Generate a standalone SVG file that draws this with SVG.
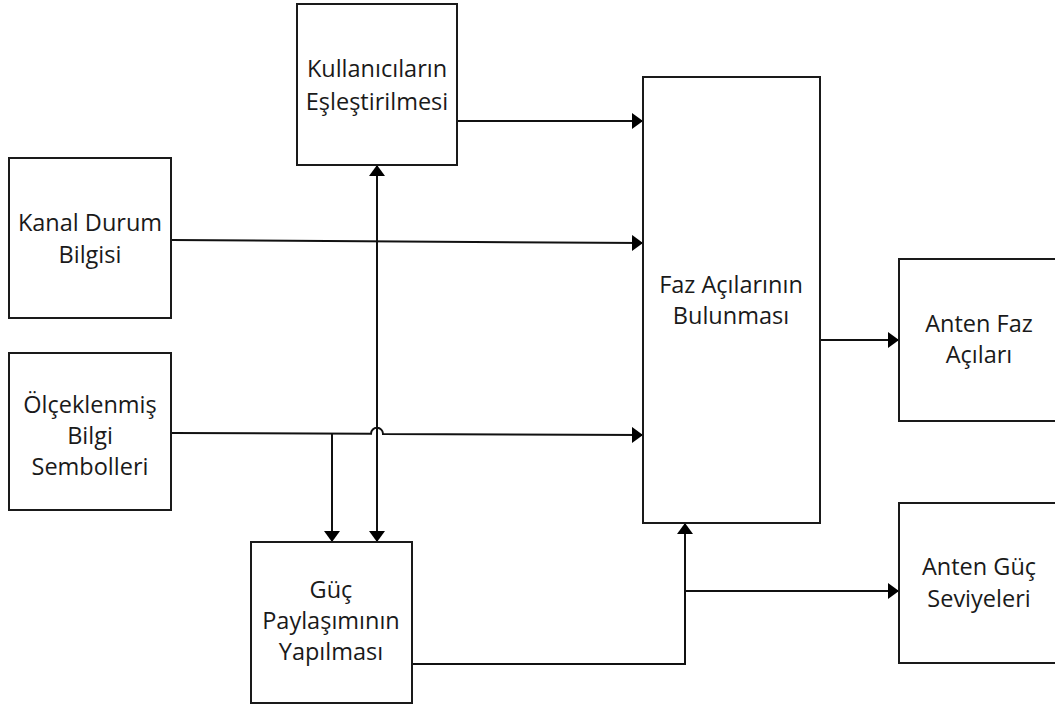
<svg xmlns="http://www.w3.org/2000/svg" width="1055" height="711" viewBox="0 0 1055 711">
  <style>
    .box { fill: #ffffff; stroke: #1a1a1a; stroke-width: 2; }
    .lbl { font-family: "Open Sans", "Liberation Sans", sans-serif; font-size: 23.5px; fill: #1a1a1a; text-anchor: middle; }
    .wire { fill: none; stroke: #111111; stroke-width: 2; }
  </style>
  <defs>
    <marker id="arrow" viewBox="0 0 11 16" refX="11" refY="8" markerWidth="11" markerHeight="16" markerUnits="userSpaceOnUse" orient="auto-start-reverse">
      <path d="M0,0 L11,8 L0,16 Z" fill="#000000"/>
    </marker>
  </defs>
  <rect width="1055" height="711" fill="#ffffff"/>

  <!-- connectors -->
  <g id="connectors">
    <!-- Kullanıcıların Eşleştirilmesi -> Faz Açılarının Bulunması -->
    <path class="wire" d="M457,121 L643,121" marker-end="url(#arrow)"/>
    <!-- Kanal Durum Bilgisi -> Faz Açılarının Bulunması -->
    <path class="wire" d="M171,240 L643,243" marker-end="url(#arrow)"/>
    <!-- Ölçeklenmiş Bilgi Sembolleri -> Faz Açılarının Bulunması, hopping over the vertical link -->
    <path class="wire" d="M171,433 L371,433.8 A6,6 0 0 1 383,433.9 L643,435" marker-end="url(#arrow)"/>
    <!-- branch down to Güç Paylaşımının Yapılması -->
    <path class="wire" d="M332,433.6 L332,542" marker-end="url(#arrow)"/>
    <!-- two-way link between Kullanıcıların Eşleştirilmesi and Güç Paylaşımının Yapılması -->
    <path class="wire" d="M377,165 L377,542" marker-start="url(#arrow)" marker-end="url(#arrow)"/>
    <!-- Faz Açılarının Bulunması -> Anten Faz Açıları -->
    <path class="wire" d="M820,340 L899,340" marker-end="url(#arrow)"/>
    <!-- Güç Paylaşımının Yapılması -> Faz Açılarının Bulunması -->
    <path class="wire" d="M412,664 L685,664 L685,523" marker-end="url(#arrow)"/>
    <!-- branch to Anten Güç Seviyeleri -->
    <path class="wire" d="M685,591 L899,591" marker-end="url(#arrow)"/>
  </g>

  <g id="node-kullanicilarin">
    <rect class="box" x="297" y="4" width="160" height="161"/>
    <text class="lbl" x="377" y="77">Kullanıcıların</text>
    <text class="lbl" x="377" y="110">Eşleştirilmesi</text>
  </g>

  <g id="node-kanal">
    <rect class="box" x="9" y="158" width="162" height="160"/>
    <text class="lbl" x="90" y="231">Kanal Durum</text>
    <text class="lbl" x="90" y="263">Bilgisi</text>
  </g>

  <g id="node-olceklenmis">
    <rect class="box" x="9" y="353" width="162" height="157"/>
    <text class="lbl" x="90" y="413">Ölçeklenmiş</text>
    <text class="lbl" x="90" y="444">Bilgi</text>
    <text class="lbl" x="90" y="475">Sembolleri</text>
  </g>

  <g id="node-guc">
    <rect class="box" x="251" y="542" width="161" height="161"/>
    <text class="lbl" x="331" y="598">Güç</text>
    <text class="lbl" x="331" y="629">Paylaşımının</text>
    <text class="lbl" x="331" y="660">Yapılması</text>
  </g>

  <g id="node-faz">
    <rect class="box" x="643" y="77" width="177" height="446"/>
    <text class="lbl" x="731" y="293">Faz Açılarının</text>
    <text class="lbl" x="731" y="324">Bulunması</text>
  </g>

  <g id="node-anten-faz">
    <rect class="box" x="899" y="259" width="170" height="162"/>
    <text class="lbl" x="979" y="332">Anten Faz</text>
    <text class="lbl" x="979" y="363">Açıları</text>
  </g>

  <g id="node-anten-guc">
    <rect class="box" x="899" y="503" width="170" height="160"/>
    <text class="lbl" x="979" y="575">Anten Güç</text>
    <text class="lbl" x="979" y="607">Seviyeleri</text>
  </g>
</svg>
